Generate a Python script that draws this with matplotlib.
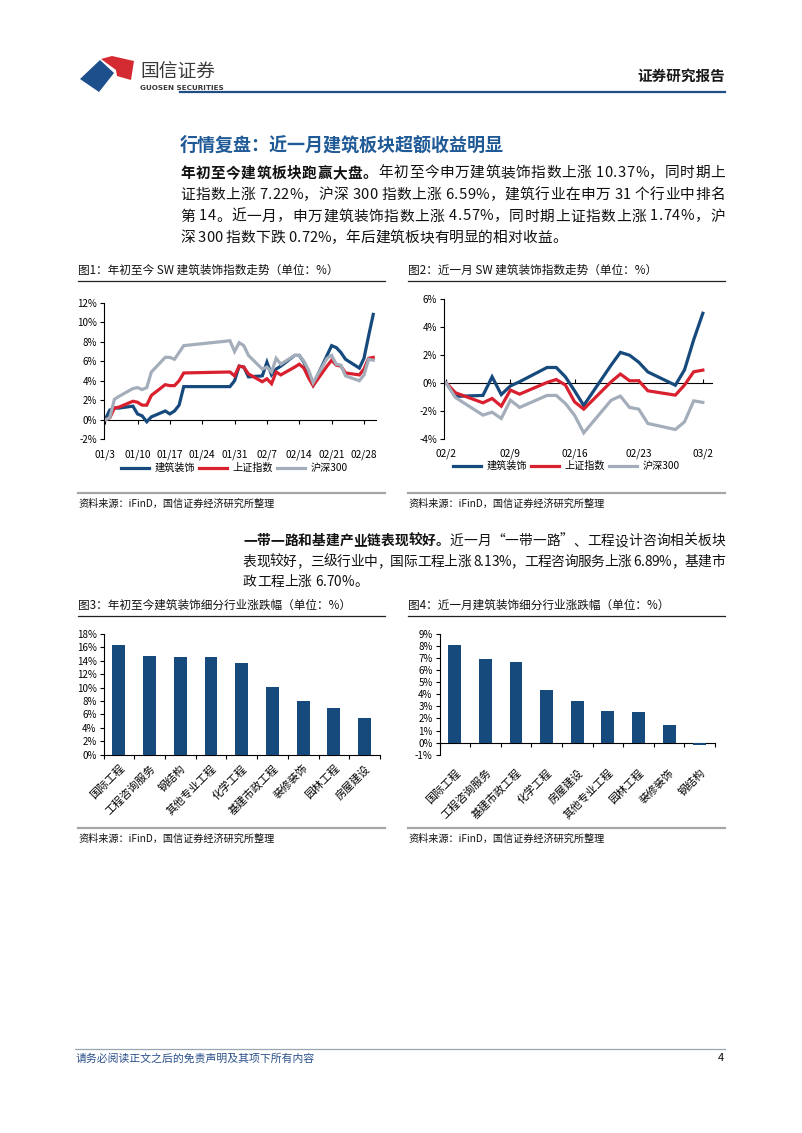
import matplotlib
matplotlib.use('Agg')
import matplotlib.pyplot as plt
from matplotlib.lines import Line2D
from matplotlib.patches import Polygon
import pandas as pd
import numpy as np

plt.rcParams['font.family'] = ['Noto Sans CJK SC', 'DejaVu Sans']
plt.rcParams['axes.unicode_minus'] = False

# ---- data ----
dates1 = ['01-03', '01-04', '01-05', '01-06', '01-09', '01-10', '01-11', '01-12', '01-13',
          '01-16', '01-17', '01-18', '01-19', '01-20', '01-30', '01-31', '02-01', '02-02',
          '02-03', '02-06', '02-07', '02-08', '02-09', '02-10', '02-13', '02-14', '02-15',
          '02-16', '02-17', '02-20', '02-21', '02-22', '02-23', '02-24', '02-27', '02-28',
          '03-01', '03-02']
jz1 = [0, 1.0, 1.2, 1.2, 1.4, 0.6, 0.4, -0.2, 0.3, 0.9, 0.6, 0.9, 1.5, 3.4, 3.4, 4.0, 5.5, 5.4,
       4.4, 4.5, 5.9, 4.6, 5.2, 5.5, 6.6, 6.6, 5.9, 4.8, 3.6, 6.6, 7.6, 7.4, 6.9, 6.2, 5.3, 6.3,
       8.6, 10.8]
sz1 = [0, 0.2, 1.2, 1.3, 1.9, 1.8, 1.5, 1.5, 2.5, 3.6, 3.5, 3.5, 4.0, 4.8, 4.9, 4.5, 5.5, 5.4,
       4.7, 3.9, 4.2, 3.7, 4.9, 4.6, 5.4, 5.7, 5.3, 4.3, 3.5, 5.5, 6.1, 5.6, 5.5, 4.8, 4.6, 5.2,
       6.3, 6.4]
hs1 = [0, 0.2, 2.1, 2.4, 3.2, 3.3, 3.1, 3.3, 4.9, 6.4, 6.4, 6.2, 6.9, 7.6, 8.1, 7.0, 7.9, 7.6,
       6.6, 5.2, 5.4, 4.9, 6.3, 5.7, 6.6, 6.6, 6.0, 5.1, 3.8, 6.3, 6.6, 5.7, 5.6, 4.5, 4.0, 4.6,
       6.2, 6.1]
ticks1 = ['01-03', '01-10', '01-17', '01-24', '01-31', '02-07', '02-14', '02-21', '02-28']
ticklabels1 = ['01/3', '01/10', '01/17', '01/24', '01/31', '02/7', '02/14', '02/21', '02/28']

dates2 = ['02-02', '02-03', '02-06', '02-07', '02-08', '02-09', '02-10', '02-13', '02-14',
          '02-15', '02-16', '02-17', '02-20', '02-21', '02-22', '02-23', '02-24', '02-27',
          '02-28', '03-01', '03-02']
jz2 = [0, -0.95, -0.88, 0.45, -0.82, -0.2, 0.1, 1.12, 1.12, 0.45, -0.55, -1.6, 1.3, 2.2, 2.0,
       1.5, 0.8, -0.15, 0.95, 3.1, 5.0]
sz2 = [0, -0.69, -1.41, -1.1, -1.65, -0.5, -0.79, 0.05, 0.26, -0.14, -1.34, -1.86, 0.1, 0.65,
       0.17, 0.17, -0.55, -0.86, -0.14, 0.81, 0.93]
hs2 = [0, -1.03, -2.29, -2.08, -2.53, -1.22, -1.74, -0.88, -0.88, -1.46, -2.3, -3.56, -1.22,
       -0.93, -1.74, -1.86, -2.89, -3.32, -2.77, -1.27, -1.38]
ticks2 = ['02-02', '02-09', '02-16', '02-23', '03-02']
ticklabels2 = ['02/2', '02/9', '02/16', '02/23', '03/2']

series_names = ['建筑装饰', '上证指数', '沪深300']

cats3 = ['国际工程', '工程咨询服务', '钢结构', '其他专业工程', '化学工程', '基建市政工程',
         '装修装饰', '园林工程', '房屋建设']
vals3 = [16.37, 14.78, 14.58, 14.55, 13.62, 10.15, 8.06, 7.0, 5.47]
cats4 = ['国际工程', '工程咨询服务', '基建市政工程', '化学工程', '房屋建设', '其他专业工程',
         '园林工程', '装修装饰', '钢结构']
vals4 = [8.13, 6.89, 6.70, 4.36, 3.48, 2.6, 2.51, 1.46, -0.22]

BLUE = '#164a7d'
RED = '#d9202f'
GRAY = '#a4aebb'
TITLE_BLUE = '#1f5a96'

W, H = 802, 1133
fig = plt.figure(figsize=(W / 100, H / 100), dpi=100)
renderer = fig.canvas.get_renderer()


def fx(x):
    return x / W


def fy(y):
    return 1 - y / H


def add_ax(x0, y0, x1, y1):
    return fig.add_axes([fx(x0), fy(y1), (x1 - x0) / W, (y1 - y0) / H])


def hline(x0, x1, y, color, lw):
    fig.add_artist(Line2D([fx(x0), fx(x1)], [fy(y), fy(y)], color=color, lw=lw))


def to_dates(lst):
    return pd.to_datetime(['2023-' + d for d in lst])


# ---- justified body text, one char at a time ----
_wcache = {}


def text_w(s, size, bold):
    t = fig.text(0, 0, s, fontsize=size, fontweight='bold' if bold else 'normal')
    w = t.get_window_extent(renderer).width
    t.remove()
    return w


def char_w(c, size, bold):
    key = (c, size, bold)
    if key not in _wcache:
        _wcache[key] = text_w('国' + c + '国', size, bold) - text_w('国国', size, bold)
    return _wcache[key]


def body_line(x0, y, parts, size, x1=None):
    chars = [(c, b) for s, b in parts for c in s]
    ws = [char_w(c, size, b) for c, b in chars]
    gap = 0
    if x1 is not None:
        gap = (x1 - x0 - sum(ws)) / (len(chars) - 1)
    x = x0
    for (c, b), w in zip(chars, ws):
        if c != ' ':
            fig.text(fx(x), fy(y), c, fontsize=size, fontweight='bold' if b else 'normal',
                     color='#111111', ha='left', va='center')
        x += w + gap


# ---- header ----
fig.add_artist(Polygon([(fx(80), fy(79)), (fx(100), fy(60)), (fx(114), fy(73)), (fx(99), fy(92))],
                       closed=True, color='#1d4f8c', lw=0))
fig.add_artist(Polygon([(fx(101), fy(59)), (fx(112), fy(56)), (fx(134), fy(61)), (fx(131), fy(80)),
                        (fx(117), fy(76)), (fx(116), fy(70))],
                       closed=True, color='#d42a32', lw=0))
fig.text(fx(140), fy(71), '国信证券', fontsize=13.5, color='#3a3a3a', ha='left', va='center')
fig.text(fx(140), fy(87.5), 'GUOSEN SECURITIES', fontsize=5.2, fontweight='bold', color='#3a3a3a',
         ha='left', va='center', family='DejaVu Sans')
fig.text(fx(725), fy(76), '证券研究报告', fontsize=10.5, fontweight='bold', color='#1a1a1a',
         ha='right', va='center')
hline(180, 725, 92, '#1f4e85', 1.6)

fig.text(fx(180), fy(145), '行情复盘：近一月建筑板块超额收益明显', fontsize=13, fontweight='bold',
         color=TITLE_BLUE, ha='left', va='center')

body_line(180, 173, [('年初至今建筑板块跑赢大盘。', True), ('年初至今申万建筑装饰指数上涨 10.37%，同时期上', False)], 10.6, 725)
body_line(180, 195, [('证指数上涨 7.22%，沪深 300 指数上涨 6.59%，建筑行业在申万 31 个行业中排名', False)], 10.6, 725)
body_line(180, 216.5, [('第 14。近一月，申万建筑装饰指数上涨 4.57%，同时期上证指数上涨 1.74%，沪', False)], 10.6, 725)
body_line(180, 238, [('深 300 指数下跌 0.72%，年后建筑板块有明显的相对收益。', False)], 10.6)

body_line(243, 541, [('一带一路和基建产业链表现较好。', True), ('近一月“一带一路”、工程设计咨询相关板块', False)], 9.9, 725)
body_line(243, 562, [('表现较好，三级行业中，国际工程上涨 8.13%，工程咨询服务上涨 6.89%，基建市', False)], 9.9, 725)
body_line(243, 582, [('政工程上涨 6.70%。', False)], 9.9)


def caption(x0, x1, ytext, text, ysrc):
    fig.text(fx(x0), fy(ytext), text, fontsize=8.4, color='#111111', ha='left', va='center')
    hline(x0, x1, ytext + 10.5, '#222222', 0.9)
    hline(x0, x1, ysrc - 11, '#a6a6a6', 1.6)
    fig.text(fx(x0), fy(ysrc), '资料来源：iFinD，国信证券经济研究所整理', fontsize=7.3,
             color='#111111', ha='left', va='center')


caption(78, 385, 270, '图1：年初至今 SW 建筑装饰指数走势（单位：%）', 504)
caption(408, 725, 270, '图2：近一月 SW 建筑装饰指数走势（单位：%）', 504)
caption(78, 385, 605, '图3：年初至今建筑装饰细分行业涨跌幅（单位：%）', 839)
caption(408, 725, 605, '图4：近一月建筑装饰细分行业涨跌幅（单位：%）', 839)


# ---- line charts ----
def line_chart(ax, dates, series, ylim, ticks, ticklabels, xend, tick_dir, legend_xy):
    d = to_dates(dates)
    for vals, c, name in zip(series, [BLUE, RED, GRAY], series_names):
        ax.plot(d, vals, color=c, lw=2.3, label=name, solid_joinstyle='miter')
    ax.set_ylim(*ylim)
    ax.set_yticks(np.arange(ylim[0], ylim[1] + 0.1, 2))
    ax.set_yticklabels([f'{v:.0f}%' for v in np.arange(ylim[0], ylim[1] + 0.1, 2)])
    ax.set_xlim(d[0] - pd.Timedelta(hours=6), d[0] + pd.Timedelta(days=xend))
    t = to_dates(ticks)
    ax.set_xticks(t)
    ax.set_xticklabels(ticklabels)
    for s in ['top', 'right', 'bottom']:
        ax.spines[s].set_visible(False)
    ax.spines['left'].set_linewidth(0.8)
    ax.tick_params(axis='x', length=0, pad=7, labelsize=7.3)
    ax.tick_params(axis='y', length=3, width=0.8, labelsize=7, pad=2)
    sec = ax.secondary_xaxis(-ylim[0] / (ylim[1] - ylim[0]))
    sec.set_xticks(t)
    sec.set_xticklabels([''] * len(t))
    sec.tick_params(axis='x', length=3, width=0.8, direction=tick_dir)
    sec.spines['bottom'].set_linewidth(0.8)
    fig.legend(*ax.get_legend_handles_labels(), loc='center', bbox_to_anchor=legend_xy,
               ncol=3, frameon=False, fontsize=7.3, handlelength=2.8, handletextpad=0.5,
               columnspacing=0.4)


ax1 = add_ax(104, 302.7, 376, 439.3)
line_chart(ax1, dates1, [jz1, sz1, hs1], (-2, 12), ticks1, ticklabels1, 58.6, 'out',
           (fx(234), fy(468)))

ax2 = add_ax(444, 299.3, 712, 439)
line_chart(ax2, dates2, [jz2, sz2, hs2], (-4, 6), ticks2, ticklabels2, 29.0, 'in',
           (fx(566), fy(466)))


# ---- bar charts ----
def bar_chart(ax, cats, vals, ylim, step, pad):
    x = np.arange(len(cats))
    ax.bar(x, vals, width=0.42, color=BLUE)
    ax.set_xlim(-0.5, len(cats) - 0.5)
    ax.set_ylim(*ylim)
    yt = np.arange(ylim[0], ylim[1] + 0.01, step)
    ax.set_yticks(yt)
    ax.set_yticklabels([f'{v:.0f}%' for v in yt])
    ax.set_xticks(x)
    ax.set_xticklabels(cats, rotation=45, ha='right', rotation_mode='anchor', fontsize=7.8)
    for s in ['top', 'right', 'bottom']:
        ax.spines[s].set_visible(False)
    ax.spines['left'].set_linewidth(0.8)
    ax.tick_params(axis='x', length=0, pad=pad)
    ax.tick_params(axis='y', length=3, width=0.8, labelsize=7, pad=2)
    sec = ax.secondary_xaxis(-ylim[0] / (ylim[1] - ylim[0]))
    b = np.arange(-0.5, len(cats), 1)
    sec.set_xticks(b)
    sec.set_xticklabels([''] * len(b))
    sec.tick_params(axis='x', length=3, width=0.8, direction='out')
    sec.spines['bottom'].set_linewidth(0.8)


ax3 = add_ax(103.5, 634, 380, 754.7)
bar_chart(ax3, cats3, vals3, (0, 18), 2, 6)

ax4 = add_ax(439.5, 634, 715, 754.7)
bar_chart(ax4, cats4, vals4, (-1, 9), 1, 9)

# ---- footer ----
hline(75, 725, 1049, '#9aa6b2', 0.9)
fig.text(fx(76), fy(1058), '请务必阅读正文之后的免责声明及其项下所有内容', fontsize=7.8,
         color='#2a4f8a', style='italic', ha='left', va='center')
fig.text(fx(724), fy(1058), '4', fontsize=8, color='#111111', ha='right', va='center')

fig.savefig('out.png', dpi=100)
